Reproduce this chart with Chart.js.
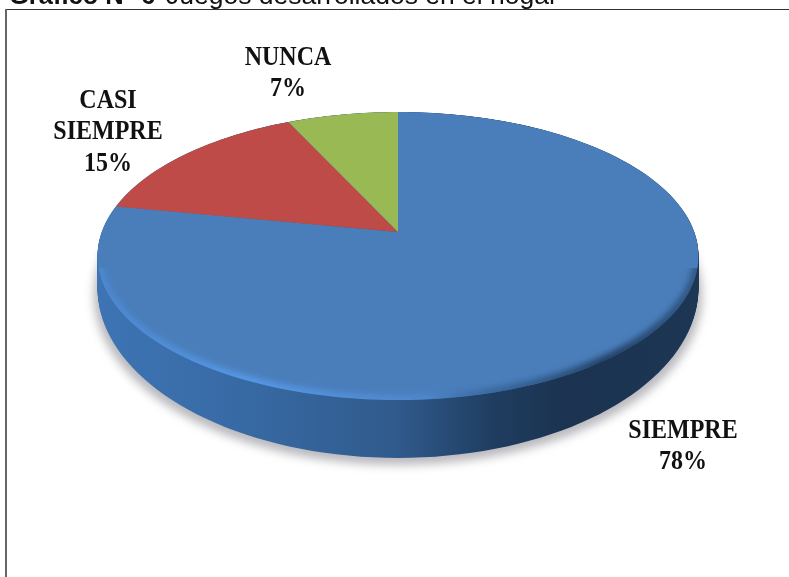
<!DOCTYPE html>
<html>
<head>
<meta charset="utf-8">
<style>html,body{margin:0;padding:0;background:#fff}canvas{display:block}</style>
<script src="https://cdn.jsdelivr.net/npm/chart.js@4"></script>
</head>
<body>
<canvas id="c" width="789" height="577"></canvas>
<script>
const categories = ['SIEMPRE', 'CASI SIEMPRE', 'NUNCA'];
const values = [78, 15, 7];
const colors = ['#4a7ebb', '#be4b48', '#98b954'];

const labelLines = [['SIEMPRE', '78%'], ['CASI', 'SIEMPRE', '15%'], ['NUNCA', '7%']];
const labelTopCentres = [[683, 431], [108, 101], [288, 58]];
const titleBold = 'Gráfico N° 6';
const titleRest = 'Juegos desarrollados en el hogar';

const SX = 1.975, SY = 0.933, K = -0.167, DEPTH = 32, GROW = 0.18;

function project(el, alpha) {
  const u = Math.cos(alpha), v = Math.sin(alpha), d = 1 + K * v;
  return [el.x + el.outerRadius * SX * u / d, el.y + el.outerRadius * SY * v / d];
}
function rimPath(ctx, el, t) {
  const cy = el.y + 24;
  ctx.beginPath();
  for (let i = 0; i <= 180; i++) {
    const p = project(el, i / 180 * Math.PI * 2);
    const y = cy + (p[1] - cy) * (1 + GROW * t) + DEPTH * t;
    i ? ctx.lineTo(p[0], y) : ctx.moveTo(p[0], y);
  }
  ctx.closePath();
}
function slicePath(ctx, el) {
  ctx.beginPath();
  ctx.moveTo(el.x, el.y);
  const n = Math.max(2, Math.ceil((el.endAngle - el.startAngle) * 40));
  for (let i = 0; i <= n; i++) {
    const p = project(el, el.startAngle + (el.endAngle - el.startAngle) * i / n);
    ctx.lineTo(p[0], p[1]);
  }
  ctx.closePath();
}

const pie3d = {
  id: 'pie3d',
  beforeDraw(chart) {
    const ctx = chart.ctx;
    ctx.save();
    ctx.fillStyle = '#fff';
    ctx.fillRect(0, 0, 789, 577);
    ctx.strokeStyle = '#333';
    ctx.lineWidth = 1;
    ctx.beginPath(); ctx.moveTo(6, 9.5); ctx.lineTo(789, 9.5); ctx.stroke();
    ctx.strokeStyle = '#666';
    ctx.lineWidth = 2;
    ctx.beginPath(); ctx.moveTo(6, 9); ctx.lineTo(6, 577); ctx.stroke();
    ctx.fillStyle = '#111';
    ctx.textBaseline = 'alphabetic';
    ctx.textAlign = 'left';
    ctx.font = 'bold 25.5px "Liberation Sans"';
    ctx.fillText(titleBold, 9, 3.5);
    ctx.font = '26.5px "Liberation Sans"';
    ctx.fillText(titleRest, 166, 3.5);
    ctx.restore();
  },
  beforeDatasetsDraw(chart) {
    const ctx = chart.ctx;
    const arcs = chart.getDatasetMeta(0).data;
    const el = arcs[0];
    ctx.save();
    // soft shadow
    ctx.save();
    ctx.filter = 'blur(5px)';
    ctx.fillStyle = 'rgba(70,70,85,0.38)';
    ctx.translate(el.x, el.y + 7);
    ctx.scale(1.012, 1);
    ctx.translate(-el.x, -el.y);
    rimPath(ctx, el, 1);
    ctx.fill();
    ctx.restore();
    // side wall
    const g = ctx.createLinearGradient(98, 0, 697, 0);
    g.addColorStop(0, '#3e74b4');
    g.addColorStop(0.22, '#386ba6');
    g.addColorStop(0.5, '#305a8c');
    g.addColorStop(0.66, '#1f3d60');
    g.addColorStop(0.78, '#1b3350');
    g.addColorStop(1, '#1c3654');
    ctx.fillStyle = g;
    for (let i = 40; i >= 0; i--) { rimPath(ctx, el, i / 40); ctx.fill(); }
    // top face
    arcs.forEach(a => {
      slicePath(ctx, a);
      ctx.fillStyle = a.options.backgroundColor;
      ctx.fill();
    });
    // bevel along the front rim
    ctx.save();
    rimPath(ctx, el, 0);
    ctx.clip();
    ctx.beginPath();
    ctx.rect(0, 268, 789, 309);
    ctx.clip();
    const h = ctx.createLinearGradient(98, 0, 697, 0);
    h.addColorStop(0, 'rgba(80,145,225,0.55)');
    h.addColorStop(0.25, 'rgba(88,155,235,0.95)');
    h.addColorStop(0.55, 'rgba(80,140,215,0.7)');
    h.addColorStop(0.66, 'rgba(40,80,125,0.5)');
    h.addColorStop(0.85, 'rgba(25,50,80,0.85)');
    h.addColorStop(1, 'rgba(25,50,80,0.5)');
    ctx.filter = 'blur(3px)';
    ctx.strokeStyle = h;
    ctx.lineWidth = 10;
    rimPath(ctx, el, 0);
    ctx.stroke();
    ctx.restore();
    ctx.restore();
    return false;
  },
  afterDraw(chart) {
    const ctx = chart.ctx;
    ctx.save();
    ctx.fillStyle = '#111';
    ctx.textAlign = 'center';
    ctx.textBaseline = 'middle';
    ctx.font = 'bold 24px "Liberation Serif"';
    labelLines.forEach((lines, i) => {
      lines.forEach((txt, j) => {
        ctx.save();
        ctx.translate(labelTopCentres[i][0], labelTopCentres[i][1] + j * 31.5);
        ctx.scale(1, 1.12);
        ctx.fillText(txt, 0, 0);
        ctx.restore();
      });
    });
    ctx.restore();
  }
};

new Chart(document.getElementById('c'), {
  type: 'pie',
  data: { labels: categories, datasets: [{ data: values, backgroundColor: colors, borderWidth: 0 }] },
  options: {
    responsive: false,
    animation: false,
    layout: { padding: { left: 248, right: 241, top: 82, bottom: 195 } },
    plugins: { legend: { display: false }, tooltip: { enabled: false }, title: { display: false } }
  },
  plugins: [pie3d]
});
</script>
</body>
</html>
